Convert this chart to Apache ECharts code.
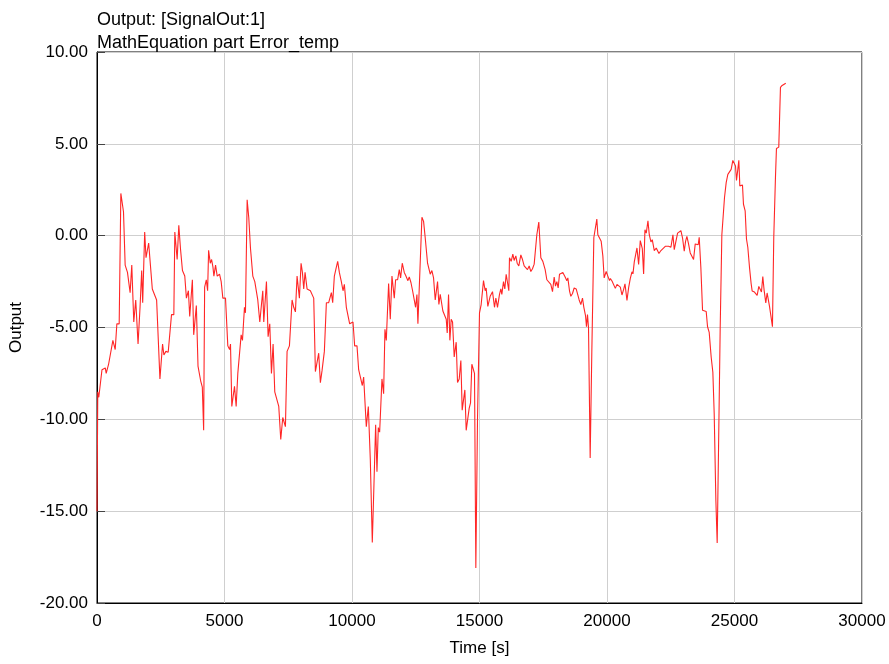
<!DOCTYPE html>
<html>
<head>
<meta charset="utf-8">
<title>Output: [SignalOut:1]</title>
<script src="https://cdn.jsdelivr.net/npm/echarts@6/dist/echarts.min.js"></script>
<style>
html,body{margin:0;padding:0;background:#fff;}
#chart{width:889px;height:664px;}
</style>
</head>
<body>
<div id="chart"></div>
<script>
// time [s] and output values
var times = [
	0,30,70,195,325,360,455,520,623,714,779,870,935,1039,1104,1195,1299,1364,1442,1519,
	1610,1688,1753,1792,1870,1922,2026,2169,2247,2338,2468,2571,2623,2701,2792,2922,3013,3052,3143,3208,
	3273,3351,3442,3506,3584,3636,3740,3792,3896,3961,4026,4065,4130,4182,4221,4286,4338,4377,4442,4494,
	4546,4584,4649,4714,4805,4870,4935,5039,5130,5200,5235,5287,5392,5457,5522,5653,5705,5783,5822,5888,
	5953,6018,6110,6188,6305,6384,6423,6501,6540,6645,6710,6775,6841,6906,6971,7037,7128,7206,7285,7389,
	7454,7546,7650,7715,7781,7846,7937,8003,8055,8107,8159,8238,8303,8368,8433,8499,8564,8629,8694,8760,
	8825,8916,8995,9086,9191,9243,9308,9373,9439,9504,9582,9648,9700,9778,9830,9909,10039,10104,10196,10261,
	10326,10405,10457,10561,10640,10718,10796,10862,10927,10979,11031,11084,11175,11240,11292,11345,11436,11501,11567,11658,
	11710,11789,11854,11906,11971,12050,12115,12193,12245,12311,12376,12441,12494,12546,12585,12650,12742,12807,12872,12963,
	13029,13068,13133,13198,13264,13355,13407,13460,13512,13564,13616,13695,13734,13786,13838,13890,13943,14008,14086,14138,
	14204,14269,14321,14373,14426,14478,14543,14595,14648,14700,14765,14804,14856,14922,15000,15065,15157,15222,15261,15327,
	15418,15510,15588,15641,15706,15784,15837,15876,15941,15993,16046,16111,16150,16176,16242,16307,16359,16425,16477,16542,
	16621,16686,16752,16817,16882,16948,17013,17078,17144,17183,17248,17326,17405,17484,17575,17641,17706,17797,17863,17928,
	17980,18033,18085,18137,18190,18268,18359,18425,18464,18529,18582,18647,18712,18791,18843,18908,18974,19039,19092,19157,
	19196,19235,19275,19340,19405,19484,19549,19601,19641,19706,19771,19837,19889,19967,20033,20098,20131,20196,20261,20326,
	20392,20457,20522,20587,20653,20705,20783,20849,20914,20979,21018,21070,21123,21175,21240,21305,21384,21436,21488,21540,
	21606,21658,21723,21775,21854,21932,21984,22037,22115,22193,22285,22415,22507,22585,22637,22702,22768,22833,22898,22963,
	23029,23081,23133,23198,23264,23329,23394,23460,23525,23577,23616,23681,23747,23825,23890,23943,24008,24086,24151,24204,
	24269,24321,24373,24439,24504,24608,24674,24739,24804,24869,24935,25000,25039,25078,25130,25170,25209,25261,25313,25352,
	25418,25470,25522,25587,25653,25692,25783,25849,25888,25953,26018,26057,26110,26162,26227,26279,26318,26371,26423,26488,
	26540,26606,26645,26736,26802,26867,26932,27010
];
var outputs = [
	-15.0,-8.5,-8.8,-7.3,-7.2,-7.5,-7.0,-6.9,-5.7,-6.2,-4.8,-4.8,2.3,1.3,-1.6,-2.0,-3.1,-1.6,-4.7,-3.5,
	-5.9,-3.9,-1.9,-3.65,0.2,-1.2,-0.4,-2.9,-2.9,-3.5,-7.8,-5.9,-6.5,-6.3,-6.35,-4.3,-4.3,0.2,-1.3,0.56,
	-0.7,-1.9,-2.2,-3.4,-3.0,-4.4,-2.4,-5.4,-3.8,-7.1,-7.1,-7.9,-8.25,-10.6,-2.8,-2.4,-3.0,-0.8,-1.5,-1.3,
	-1.7,-2.2,-1.6,-2.2,-2.1,-2.5,-3.4,-3.4,-6.0,-6.2,-5.9,-9.3,-8.2,-9.3,-7.5,-5.4,-5.7,-3.9,-4.2,1.95,
	0.96,-0.67,-2.2,-2.5,-3.5,-4.7,-4.7,-3.0,-4.7,-2.5,-5.5,-4.8,-7.5,-5.9,-8.5,-8.6,-9.3,-11.1,-9.9,-10.4,
	-6.3,-6.0,-3.5,-3.9,-4.15,-2.2,-3.4,-1.5,-2.0,-2.9,-2.0,-2.9,-2.8,-3.0,-2.9,-3.4,-7.4,-7.4,-6.4,-8.0,
	-7.35,-6.3,-3.65,-3.65,-3.1,-3.65,-2.2,-1.8,-1.4,-2.0,-2.5,-3.0,-2.65,-3.9,-3.9,-4.8,-4.7,-6.0,-6.0,-7.3,
	-7.35,-8.16,-7.7,-10.4,-9.3,-12.2,-16.7,-13.5,-10.3,-12.85,-10.45,-10.7,-7.8,-8.6,-5.1,-5.7,-2.6,-4.55,-2.2,-3.4,
	-2.4,-2.4,-1.85,-2.3,-1.5,-2.0,-2.2,-2.45,-2.25,-2.55,-3.0,-3.5,-3.9,-3.2,-4.8,-4.8,1.0,0.78,-0.13,-1.5,
	-1.6,-2.1,-1.9,-2.3,-3.5,-2.5,-3.75,-3.2,-3.2,-4.1,-4.2,-4.55,-5.3,-3.2,-5.7,-4.55,-4.7,-6.6,-5.8,-8.0,
	-7.8,-6.8,-9.5,-9.4,-8.4,-10.6,-10.6,-9.4,-9.1,-7.0,-7.0,-7.5,-18.1,-10.0,-4.2,-3.75,-2.45,-3.0,-2.85,-3.85,
	-3.3,-3.05,-3.9,-3.4,-3.9,-3.2,-2.9,-3.2,-2.5,-2.9,-2.1,-2.15,-3.0,-1.2,-1.4,-1.0,-1.35,-1.1,-1.5,-1.65,
	-1.05,-1.3,-1.65,-1.6,-1.85,-1.65,-1.95,-1.8,-1.55,-1.65,0.05,0.74,-1.2,-1.4,-1.85,-2.4,-2.45,-2.65,-3.05,-2.25,
	-2.75,-2.5,-2.85,-2.1,-2.15,-2.0,-2.25,-2.45,-2.3,-3.0,-3.3,-3.15,-2.85,-2.9,-3.0,-3.5,-3.75,-3.4,-3.9,-4.35,
	-4.95,-4.3,-5.0,-12.1,-6.3,-0.1,-0.1,0.9,0.05,0.15,-0.3,-1.1,-2.3,-1.95,-2.2,-2.45,-2.33,-2.47,-2.47,-2.87,
	-2.65,-2.56,-2.8,-3.23,-2.92,-2.62,-3.52,-2.83,-2.33,-1.97,-2.08,-1.43,-1.39,-0.67,-1.57,-0.27,-0.7,-2.08,0.32,0.14,
	0.81,0.05,-0.34,-0.22,-0.81,-0.67,-0.72,-0.97,-0.81,-0.76,-0.58,-0.58,-0.63,0.05,-0.76,-0.7,0.14,0.05,0.27,-0.13,
	-0.85,-0.31,-0.04,-0.45,-0.94,-0.85,-1.3,-0.45,-0.4,-0.49,-0.09,-1.75,-4.06,-4.1,-4.13,-4.96,-5.27,-6.62,-7.44,-9.7,
	-14.4,-16.73,-11.7,-5.0,0.05,2.08,2.89,3.34,3.38,3.61,4.1,4.1,3.79,3.01,3.61,4.1,2.71,2.71,2.76,1.71,
	1.35,-0.18,-0.63,-1.71,-2.62,-3.01,-3.07,-3.12,-3.25,-2.76,-2.83,-3.07,-2.22,-2.98,-3.66,-3.12,-3.12,-3.84,-4.33,-4.96,
	-0.09,3.16,4.75,4.82,8.07,8.18,8.25,8.3
];
var titleLines = ['Output: [SignalOut:1]', 'MathEquation part Error_temp'];
var xTicks = [0, 5000, 10000, 15000, 20000, 25000, 30000];
var yTicks = [-20, -15, -10, -5, 0, 5, 10];

function initLineChart(){
	var chart = echarts.init(document.getElementById("chart"));
	var seriesData = [];
	for(var i=0;i<times.length;i++){
		seriesData.push([times[i], outputs[i]]);
	}
	var font = 'Liberation Sans, Arial, sans-serif';
	var option = {
		animation: false,
		backgroundColor: '#ffffff',
		title: {
			text: titleLines.join('\n'),
			left: 92,
			top: 4,
			textStyle: {
				fontFamily: font,
				fontSize: 18,
				fontWeight: 'normal',
				color: '#000',
				lineHeight: 23
			}
		},
		grid: {
			left: 97,
			right: 27,
			top: 52,
			bottom: 61,
			show: true,
			borderColor: '#000',
			borderWidth: 1
		},
		xAxis: {
			type: 'value',
			min: xTicks[0],
			max: xTicks[xTicks.length-1],
			interval: 5000,
			name: 'Time [s]',
			nameLocation: 'middle',
			nameGap: 37,
			nameTextStyle: {fontFamily: font, fontSize: 17, color: '#000'},
			axisLine: {show: true, onZero: false, lineStyle: {color: '#000', width: 1}},
			axisTick: {show: false},
			axisLabel: {
				fontFamily: font, fontSize: 17, color: '#000', margin: 10,
				formatter: function(v){ return String(v); }
			},
			splitLine: {show: true, lineStyle: {color: '#cfcfcf', width: 1}}
		},
		yAxis: {
			type: 'value',
			min: yTicks[0],
			max: yTicks[yTicks.length-1],
			interval: 5,
			name: 'Output',
			nameLocation: 'middle',
			nameGap: 72,
			nameTextStyle: {fontFamily: font, fontSize: 17, color: '#000'},
			axisLine: {show: true, onZero: false, lineStyle: {color: '#000', width: 1}},
			axisTick: {show: true, inside: true, length: 8, lineStyle: {color: '#444'}},
			axisLabel: {
				fontFamily: font, fontSize: 17, color: '#000', margin: 9,
				formatter: function(v){ return v.toFixed(2); }
			},
			splitLine: {show: true, lineStyle: {color: '#cfcfcf', width: 1}}
		},
		series: [
			{
				name: 'Output',
				type: 'line',
				data: seriesData,
				showSymbol: false,
				symbol: 'none',
				lineStyle: {color: '#ff2626', width: 1.1},
				z: 3
			}
		]
	};
	chart.setOption(option);
}

initLineChart();
</script>
</body>
</html>
